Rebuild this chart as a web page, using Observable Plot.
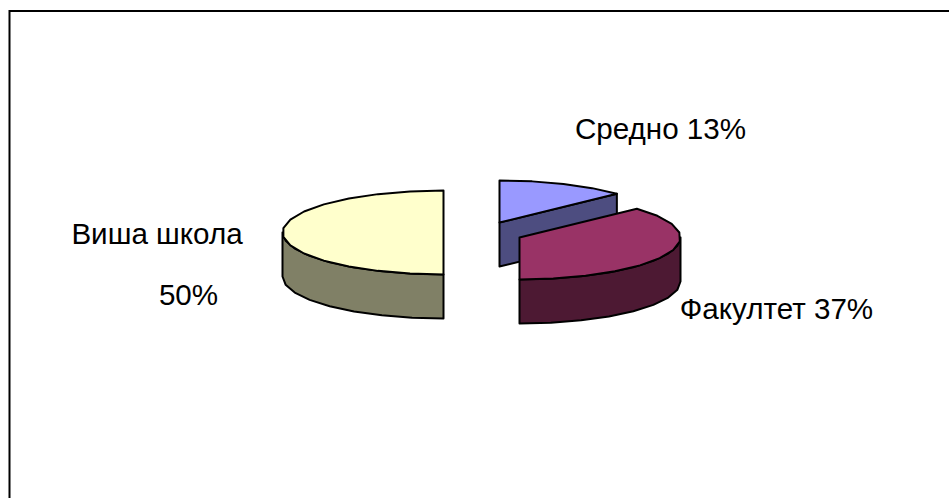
<!DOCTYPE html>
<html><head><meta charset="utf-8">
<script src="https://cdn.jsdelivr.net/npm/d3@7"></script>
<script src="https://cdn.jsdelivr.net/npm/@observablehq/plot@0.6"></script>
<style>html,body{margin:0;padding:0;background:#fff}svg{display:block}</style>
</head><body><div id="chart"></div>
<script>
const categories = ["Средно", "Факултет", "Виша школа"];
const shares = [13, 37, 50];
const topColors = ["#9999ff", "#993366", "#ffffcc"];
const sideColors = ["#4d4d80", "#4d1933", "#808066"];
const centerX = [499, 519, 443];
const centerY = [222, 237, 232];
const labelTexts = ["Средно 13%", "Факултет 37%", "Виша школа", "50%"];
const labelX = [660, 776, 156.5, 188];
const labelY = [129, 309, 234.5, 295];

const RX = 161, RY = 42, DEPTH = 44, STEP = 12;
let cum = 0;
const slices = categories.map((name, i) => {
  const a0 = cum / 100 * 2 * Math.PI;
  cum += shares[i];
  return {name, a0, a1: cum / 100 * 2 * Math.PI, cx: centerX[i], cy: centerY[i], top: topColors[i], side: sideColors[i]};
});
function arcPts(s, a0, a1, dy = 0) {
  const n = Math.max(1, Math.round((a1 - a0) / (STEP * Math.PI / 180)));
  return d3.range(n + 1).map(k => {
    const t = a0 + (a1 - a0) * k / n;
    return [s.cx + RX * Math.sin(t), s.cy - RY * Math.cos(t) + dy];
  });
}
const rows = [];
function push(id, fill, pts) {
  pts.concat([pts[0]]).forEach(([x, y]) => rows.push({id, fill, x, y}));
}
const [blue, maroon, yellow] = slices;
// Slices are stacked back to front: each side wall, then its top face.
push("y-side", yellow.side, [...arcPts(yellow, Math.PI, 1.5 * Math.PI), ...arcPts(yellow, Math.PI, 1.5 * Math.PI, DEPTH).reverse()]);
push("y-top", yellow.top, [[yellow.cx, yellow.cy], ...arcPts(yellow, yellow.a0, yellow.a1)]);
const be = arcPts(blue, blue.a1, blue.a1)[0];
push("b-side", blue.side, [[blue.cx, blue.cy], be, [be[0], be[1] + DEPTH], [blue.cx, blue.cy + DEPTH]]);
push("b-top", blue.top, [[blue.cx, blue.cy], ...arcPts(blue, blue.a0, blue.a1)]);
push("m-side", maroon.side, [...arcPts(maroon, Math.PI / 2, Math.PI), ...arcPts(maroon, Math.PI / 2, Math.PI, DEPTH).reverse()]);
push("m-top", maroon.top, [[maroon.cx, maroon.cy], ...arcPts(maroon, maroon.a0, maroon.a1)]);

const labels = labelTexts.map((text, i) => ({text, x: labelX[i], y: labelY[i]}));

document.getElementById("chart").append(Plot.plot({
  width: 949, height: 498, margin: 0,
  x: {domain: [0, 949], range: [0, 949], axis: null},
  y: {domain: [0, 498], range: [0, 498], axis: null},
  color: {type: "identity"},
  marks: [
    Plot.line(rows, {x: "x", y: "y", z: "id", fill: "fill", stroke: "#000", strokeWidth: 2, strokeLinejoin: "round"}),
    Plot.text(labels, {x: "x", y: "y", text: "text", fontFamily: "Liberation Sans", fontSize: 29.6, fill: "#000"}),
    Plot.ruleY([10.5], {x1: 9, x2: 949, stroke: "#000", strokeWidth: 2}),
    Plot.ruleX([9], {y1: 10, y2: 498, stroke: "#000", strokeWidth: 2})
  ]
}));
</script></body></html>
